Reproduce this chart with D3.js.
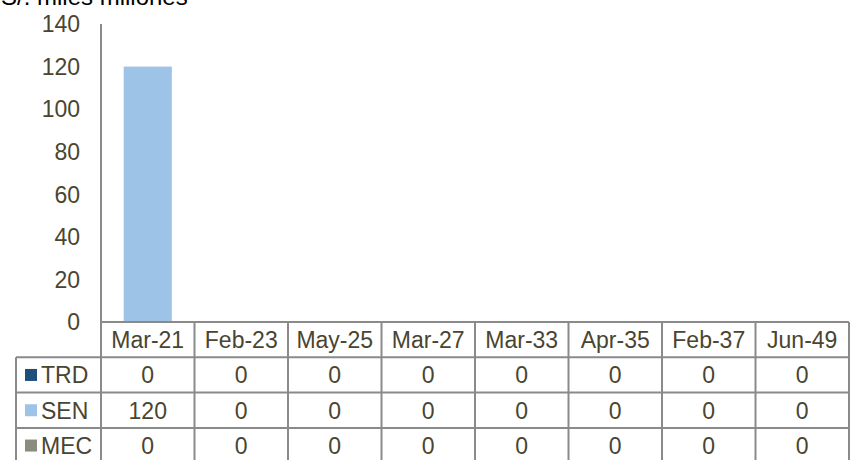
<!DOCTYPE html>
<html><head><meta charset="utf-8">
<script src="https://cdn.jsdelivr.net/npm/d3@7"></script>
<style>body{margin:0;background:#fff}svg{display:block}text{font-family:Arial,"Liberation Sans",sans-serif}</style>
</head><body><svg id="c" width="856" height="460"></svg>
<script>
const categories = ["Mar-21","Feb-23","May-25","Mar-27","Mar-33","Apr-35","Feb-37","Jun-49"];
const seriesNames = ["TRD","SEN","MEC"];
const seriesColors = ["#1F4E79","#9DC3E6","#8C8C7E"];
const TRD = [0,0,0,0,0,0,0,0];
const SEN = [120,0,0,0,0,0,0,0];
const MEC = [0,0,0,0,0,0,0,0];
const yTicks = [0,20,40,60,80,100,120,140];
const title = "S/. miles millones";

const seriesValues = [TRD, SEN, MEC];
const svg = d3.select("#c");
const L = 101, R = 849, T = 24, B = 322;
const rowH = 35.3, legendLeft = 16;
const textColor = "#4A4530", lineColor = "#8A8A8A", fs = 23;

const x = d3.scaleBand().domain(categories).range([L, R]).paddingInner(0).paddingOuter(0);
const y = d3.scaleLinear().domain([0,140]).range([B, T]);

svg.append("text").attr("x", 1).attr("y", 5).attr("font-size", 24).attr("fill", "#000").text(title);

// y tick labels
svg.append("g").selectAll("text").data(yTicks).join("text")
  .attr("x", 80).attr("y", d => y(d)).attr("dy", "0.36em")
  .attr("text-anchor", "end").attr("font-size", fs).attr("fill", textColor).text(d => d);

// bars (stacked)
const data = categories.map((c,i) => {
  const o = {cat:c}; seriesNames.forEach((s,j)=> o[s]=seriesValues[j][i]); return o;
});
const stack = d3.stack().keys(seriesNames)(data);
const bw = x.bandwidth()*0.515;
svg.append("g").selectAll("g").data(stack).join("g")
  .attr("fill", (d,i) => seriesColors[i])
  .selectAll("rect").data(d => d).join("rect")
  .attr("x", d => x(d.data.cat) + (x.bandwidth()-bw)/2)
  .attr("width", bw)
  .attr("y", d => y(d[1]))
  .attr("height", d => y(d[0]) - y(d[1]));

// table grid
const g = svg.append("g").attr("stroke", lineColor).attr("stroke-width", 2).attr("fill","none");
const nRows = seriesNames.length;
const bottom = B + rowH*(nRows+1);
g.append("line").attr("x1", L).attr("x2", L).attr("y1", T).attr("y2", bottom);
g.append("line").attr("x1", L).attr("x2", R).attr("y1", B).attr("y2", B);
for (let r=1; r<=nRows; r++) {
  g.append("line").attr("x1", legendLeft).attr("x2", R).attr("y1", B+rowH*r).attr("y2", B+rowH*r);
}
categories.forEach((c,i) => {
  const xx = x(c) + x.bandwidth();
  g.append("line").attr("x1", xx).attr("x2", xx).attr("y1", B).attr("y2", bottom);
});
g.append("line").attr("x1", legendLeft).attr("x2", legendLeft).attr("y1", B+rowH).attr("y2", bottom);

// header labels
svg.append("g").selectAll("text").data(categories).join("text")
  .attr("x", d => x(d) + x.bandwidth()/2).attr("y", B + rowH/2).attr("dy","0.36em")
  .attr("text-anchor","middle").attr("font-size", fs).attr("fill", textColor).text(d => d);

// rows
seriesNames.forEach((s, j) => {
  const cy = B + rowH*(j+1) + rowH/2;
  svg.append("rect").attr("x", 25).attr("y", cy-6).attr("width", 12).attr("height", 12).attr("fill", seriesColors[j]);
  svg.append("text").attr("x", 41).attr("y", cy).attr("dy","0.36em").attr("font-size", fs).attr("fill", textColor).text(s);
  svg.append("g").selectAll("text").data(seriesValues[j]).join("text")
    .attr("x", (d,i) => x(categories[i]) + x.bandwidth()/2).attr("y", cy).attr("dy","0.36em")
    .attr("text-anchor","middle").attr("font-size", fs).attr("fill", textColor).text(d => d);
});
</script></body></html>
